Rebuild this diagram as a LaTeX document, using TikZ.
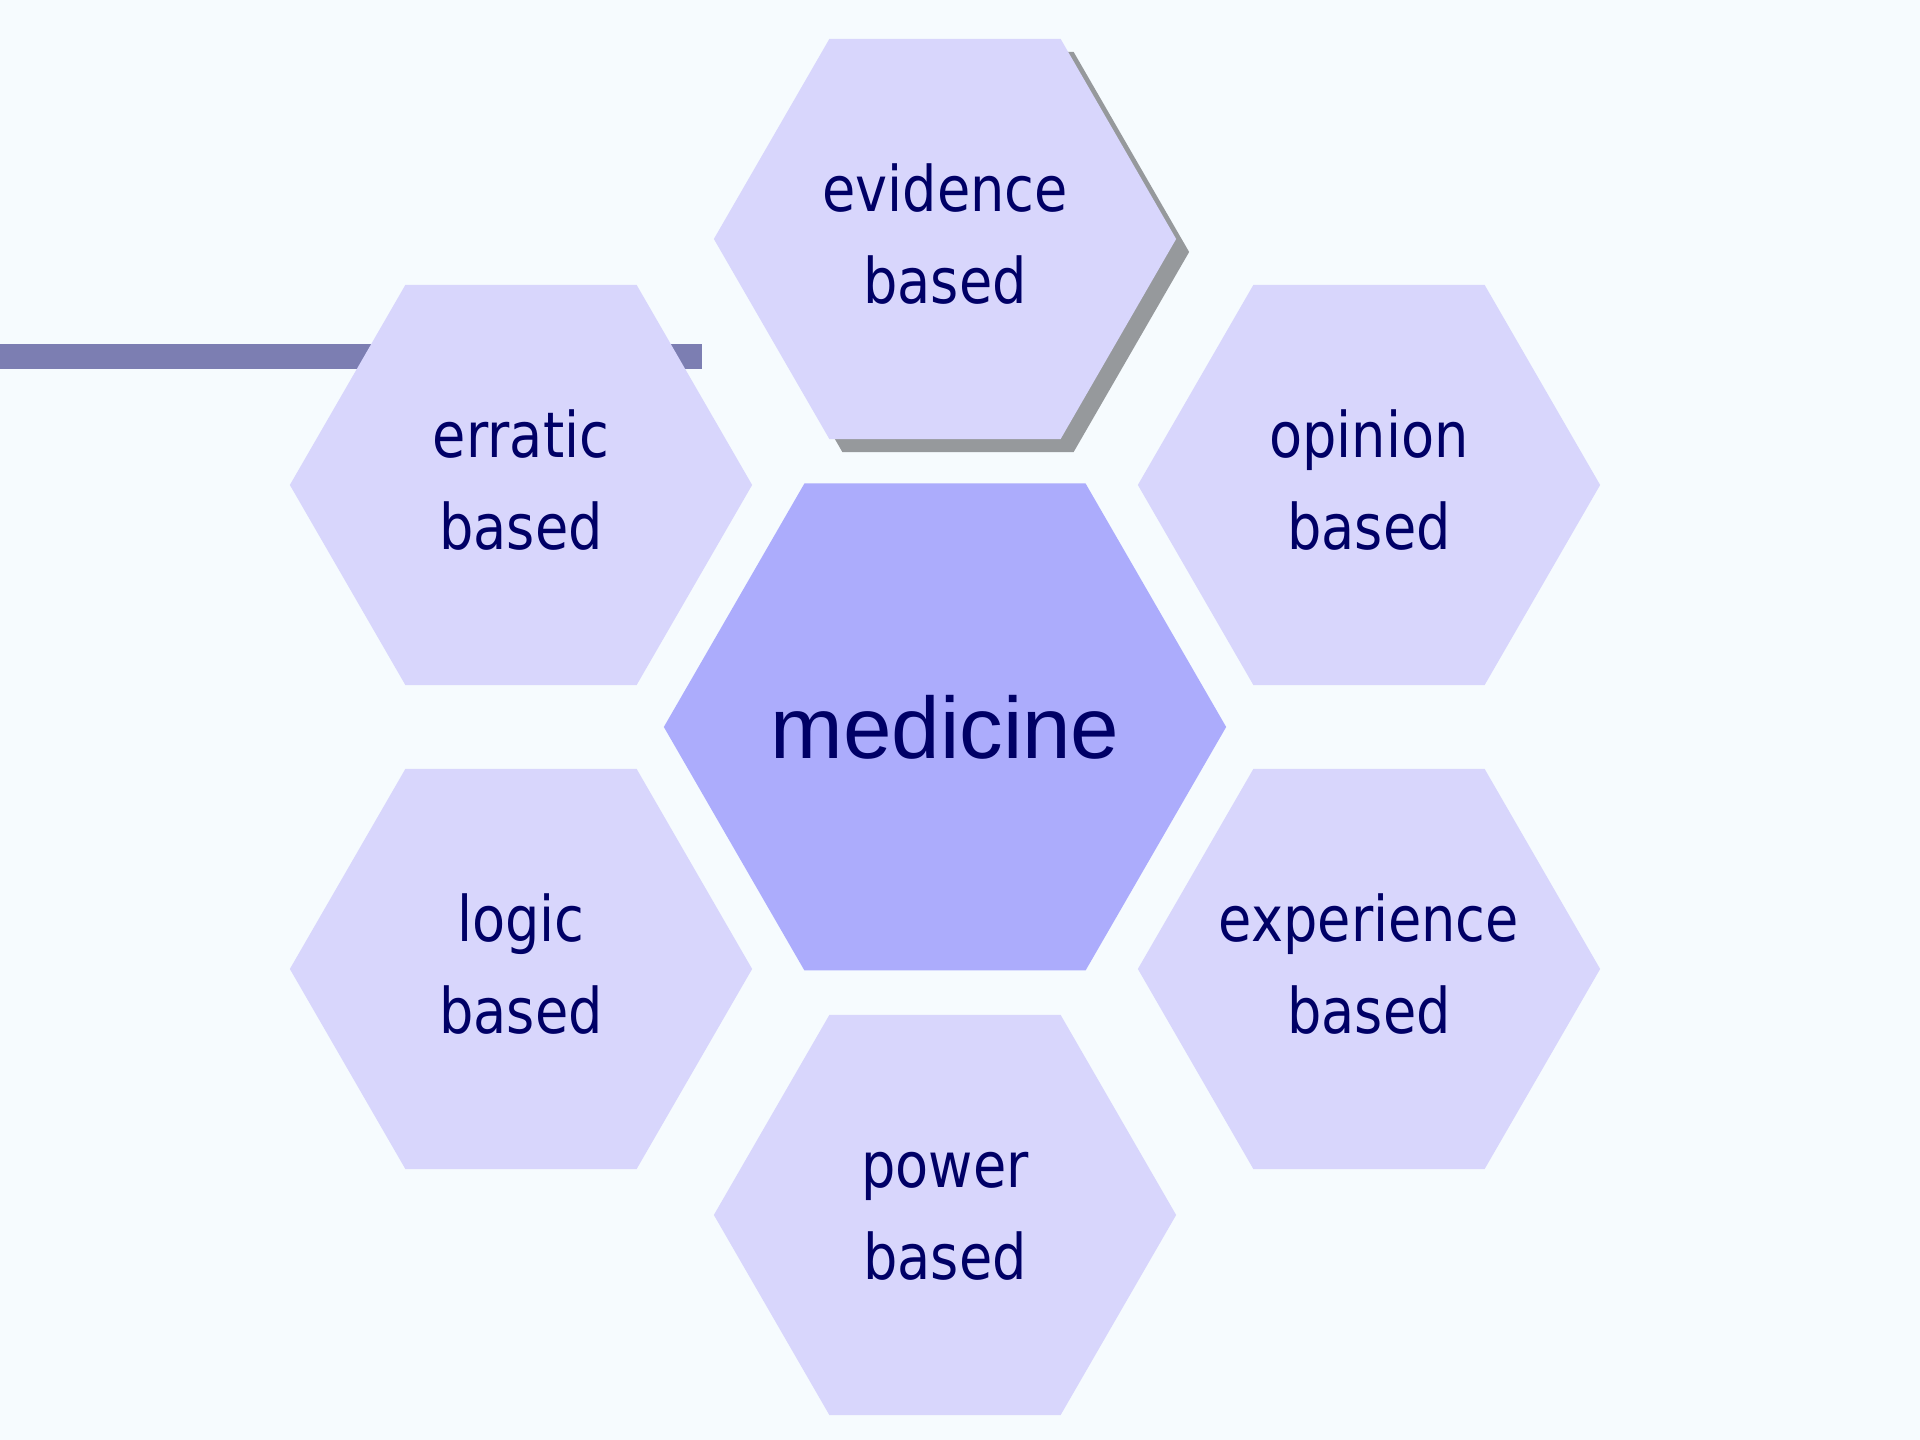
\documentclass[tikz,border=0pt]{standalone}
\usepackage{fontspec}
\usetikzlibrary{shapes.geometric,shadows,calc}
\newfontfamily\cellfont{DejaVu Sans}[FakeStretch=0.86]
\newfontfamily\hubfont{Liberation Sans}
\definecolor{pagebg}{RGB}{246,251,254}
\definecolor{cellfill}{RGB}{216,214,252}
\definecolor{hubfill}{RGB}{172,172,252}
\definecolor{barblue}{RGB}{124,126,178}
\definecolor{shadowgray}{RGB}{150,153,156}
\definecolor{navytext}{RGB}{0,0,102}
% two centred lines that never widen the cell
\newcommand\celltext[2]{\makebox[0pt]{\strut#1}\\\makebox[0pt]{\strut#2}}

\begin{document}
\begin{tikzpicture}[x=0.01cm,y=0.01cm,
  hexcell/.style={regular polygon,regular polygon sides=6,minimum size=4.62cm,
    inner sep=0pt,outer sep=0pt,fill=cellfill,text=navytext,align=center,
    font=\cellfont\fontsize{17.9}{26.2}\selectfont},
  hubcell/.style={hexcell,minimum size=5.62cm,fill=hubfill,
    font=\hubfont\fontsize{24.8}{30}\selectfont},
  castshadow/.style={drop shadow={shadow xshift=0.13cm,shadow yshift=-0.13cm,
    fill=shadowgray,opacity=1}}]
  \fill[pagebg] (0,0) rectangle (1920,1440);
  \fill[barblue] (0,1071) rectangle (702,1096);
  % centre cell and the ring around it
  \node[hubcell] (medicine) at (945,713) {\makebox[0pt]{medicine}};
  \node[hexcell,castshadow] (evidence) at ($(medicine)+(0,488)$) {\celltext{evidence}{based}};
  \node[hexcell] (opinion) at ($(medicine)+(424,242)$) {\celltext{opinion}{based}};
  \node[hexcell] (experience) at ($(medicine)+(424,-242)$) {\celltext{experience}{based}};
  \node[hexcell] (power) at ($(medicine)+(0,-488)$) {\celltext{power}{based}};
  \node[hexcell] (logic) at ($(medicine)+(-424,-242)$) {\celltext{logic}{based}};
  \node[hexcell] (erratic) at ($(medicine)+(-424,242)$) {\celltext{erratic}{based}};
\end{tikzpicture}
\end{document}
